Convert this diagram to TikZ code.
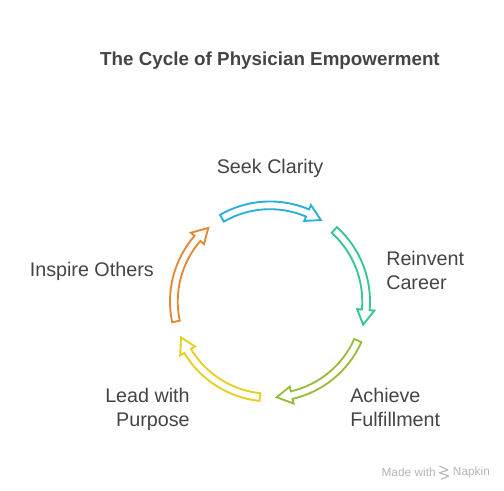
\documentclass[tikz,border=0pt]{standalone}
\usepackage{fontspec}
\setmainfont{Liberation Sans}
\definecolor{txt}{HTML}{444444}
\definecolor{wmgray}{HTML}{B4B4B4}
\definecolor{cBlue}{HTML}{2AAFD8}
\definecolor{cGreen}{HTML}{35C78F}
\definecolor{cOlive}{HTML}{96BE3C}
\definecolor{cYellow}{HTML}{E6CF1E}
\definecolor{cOrange}{HTML}{E28A33}
\tikzset{
  lbl/.style={text=txt,font=\fontsize{14.8pt}{18pt}\selectfont,inner sep=0pt,align=left},
  ttl/.style={text=txt,font=\bfseries\fontsize{14.1pt}{18pt}\selectfont,inner sep=0pt},
  wm/.style={text=wmgray,font=\fontsize{8.9pt}{10pt}\selectfont,inner sep=0pt},
  ring/.style={line width=1.4pt,line join=miter,fill=white}
}
\newcommand{\ringarrow}[2]{%
  % #1 tail angle, #2 colour; sweep 62 deg, head 9 deg
  \pgfmathsetmacro{\aT}{#1}
  \pgfmathsetmacro{\aB}{#1-53}
  \pgfmathsetmacro{\aH}{#1-62}
  \draw[ring,draw=#2,shift={(202.5pt,141.4pt)}]
    (\aT:75pt) arc[start angle=\aT,end angle=\aB,radius=75pt]
    -- (\aB:78.6pt) -- (\aH:72pt) -- (\aB:65.6pt) -- (\aB:69.2pt)
    arc[start angle=\aB,end angle=\aT,radius=69.2pt] -- cycle;
}
\begin{document}
\begin{tikzpicture}
\useasboundingbox (0,0) rectangle (378pt,367.5pt);
\node[ttl] (title) at (202.5pt,321.7pt) {The Cycle of Physician Empowerment};
\ringarrow{120}{cBlue}
\ringarrow{48}{cGreen}
\ringarrow{-24}{cOlive}
\ringarrow{-96}{cYellow}
\ringarrow{-168}{cOrange}
\node[lbl] (seek) at (202.5pt,241.2pt) {Seek Clarity};
\node[lbl,anchor=west] (reinvent) at (289.5pt,165pt) {Reinvent\\[0pt]Career};
\node[lbl,anchor=west] (achieve) at (262.5pt,61.6pt) {Achieve\\[0pt]Fulfillment};
\node[lbl,anchor=east,align=right] (lead) at (142.5pt,60.7pt) {Lead with\\[0pt]Purpose};
\node[lbl,anchor=east] (inspire) at (115.5pt,164pt) {Inspire Others};
\node[wm,anchor=west] (made) at (286pt,13.2pt) {Made with};
\node[wm,anchor=west] (napkin) at (339.5pt,13.2pt) {Napkin};
\draw[wmgray,line width=.8pt,line join=round] (329.5pt,18pt) -- (336pt,15pt) -- (329.5pt,13pt) -- (336.5pt,10.5pt) -- (331pt,8pt);
\end{tikzpicture}
\end{document}
